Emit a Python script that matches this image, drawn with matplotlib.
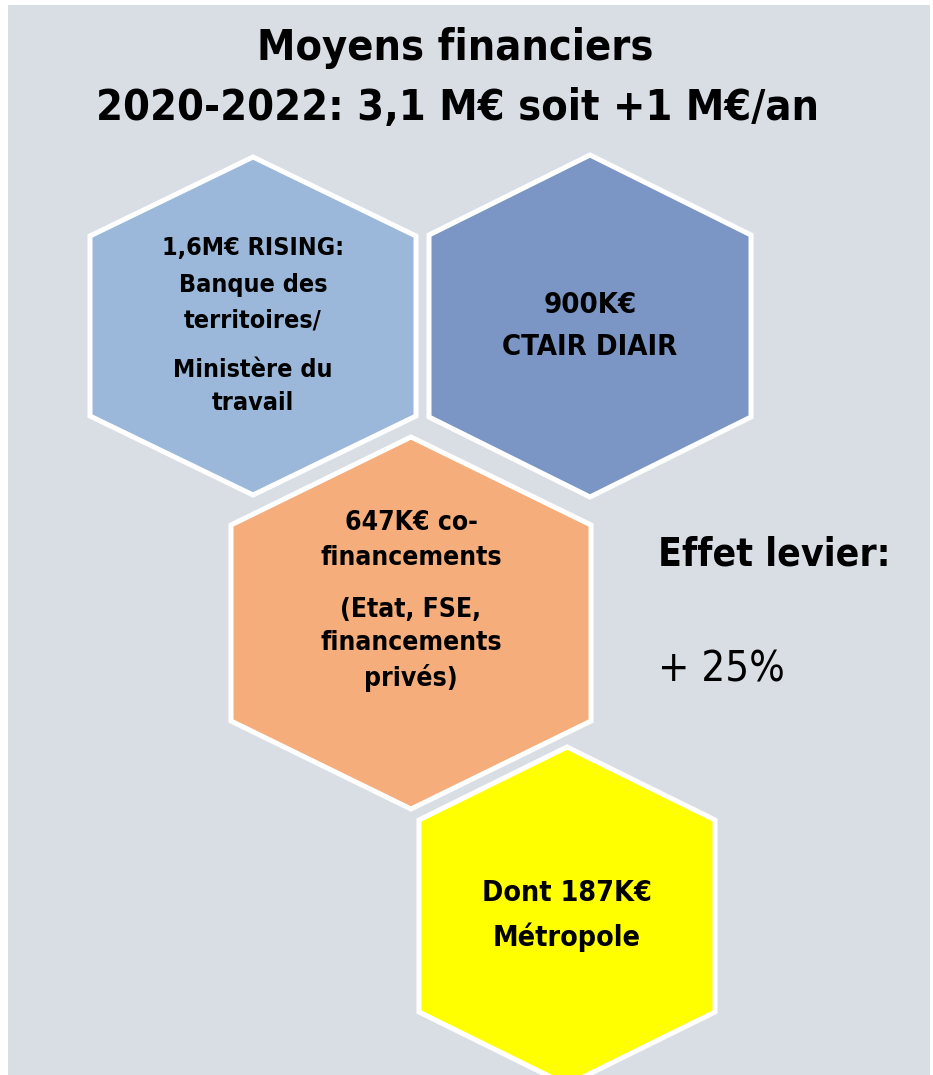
import matplotlib.pyplot as plt
from matplotlib.patches import Polygon, Rectangle

# texte du graphique
title_lines = ["Moyens financiers", "2020-2022: 3,1 M€ soit +1 M€/an"]
hex_labels = [
    ["1,6M€ RISING:", "Banque des", "territoires/", "Ministère du", "travail"],
    ["900K€", "CTAIR DIAIR"],
    ["647K€ co-", "financements", "(Etat, FSE,", "financements", "privés)"],
    ["Dont 187K€", "Métropole"],
]
hex_colors = ["#9bb8da", "#7b95c4", "#f4ad7b", "#ffff00"]
levier_label = "Effet levier:"
levier_value = "+ 25%"

# mise en page (pixels)
hex_geom = [  # cx, cy, demi-largeur, demi-hauteur, demi-cote vertical
    (253, 326, 163, 169, 90),
    (590, 326, 161, 171, 91),
    (411, 623, 180, 186, 98),
    (567, 916, 148, 169, 96),
]
label_y = [
    [248, 285, 320, 370, 403],
    [305, 347],
    [523, 558, 610, 643, 678],
    [893, 937],
]
label_size = [18, 21, 19, 20.5]
bg = "#d9dee5"
font = dict(family="DejaVu Sans", fontstretch="condensed", fontweight="bold")

fig = plt.figure(figsize=(9.33, 10.75), dpi=100)
ax = fig.add_axes([0, 0, 1, 1])
ax.set_xlim(0, 933)
ax.set_ylim(1075, 0)
ax.axis("off")

ax.add_patch(Rectangle((8, 5), 922, 1075, facecolor=bg, edgecolor="none"))

for (cx, cy, hw, hh, vh), col, lines, ys, fs in zip(hex_geom, hex_colors, hex_labels, label_y, label_size):
    pts = [(cx, cy - hh), (cx + hw, cy - vh), (cx + hw, cy + vh),
           (cx, cy + hh), (cx - hw, cy + vh), (cx - hw, cy - vh)]
    ax.add_patch(Polygon(pts, closed=True, facecolor=col, edgecolor="white", linewidth=3.6))
    for txt, y in zip(lines, ys):
        ax.text(cx, y, txt, ha="center", va="center", fontsize=fs, color="black", **font)

ax.text(455, 48, title_lines[0], ha="center", va="center", fontsize=31, **font)
ax.text(457, 108, title_lines[1], ha="center", va="center", fontsize=31, **font)

ax.text(658, 555, levier_label, ha="left", va="center", fontsize=28, **font)
ax.text(658, 670, levier_value, ha="left", va="center", fontsize=30,
        family="DejaVu Sans", fontstretch="condensed")

fig.savefig("out.png", dpi=100)
